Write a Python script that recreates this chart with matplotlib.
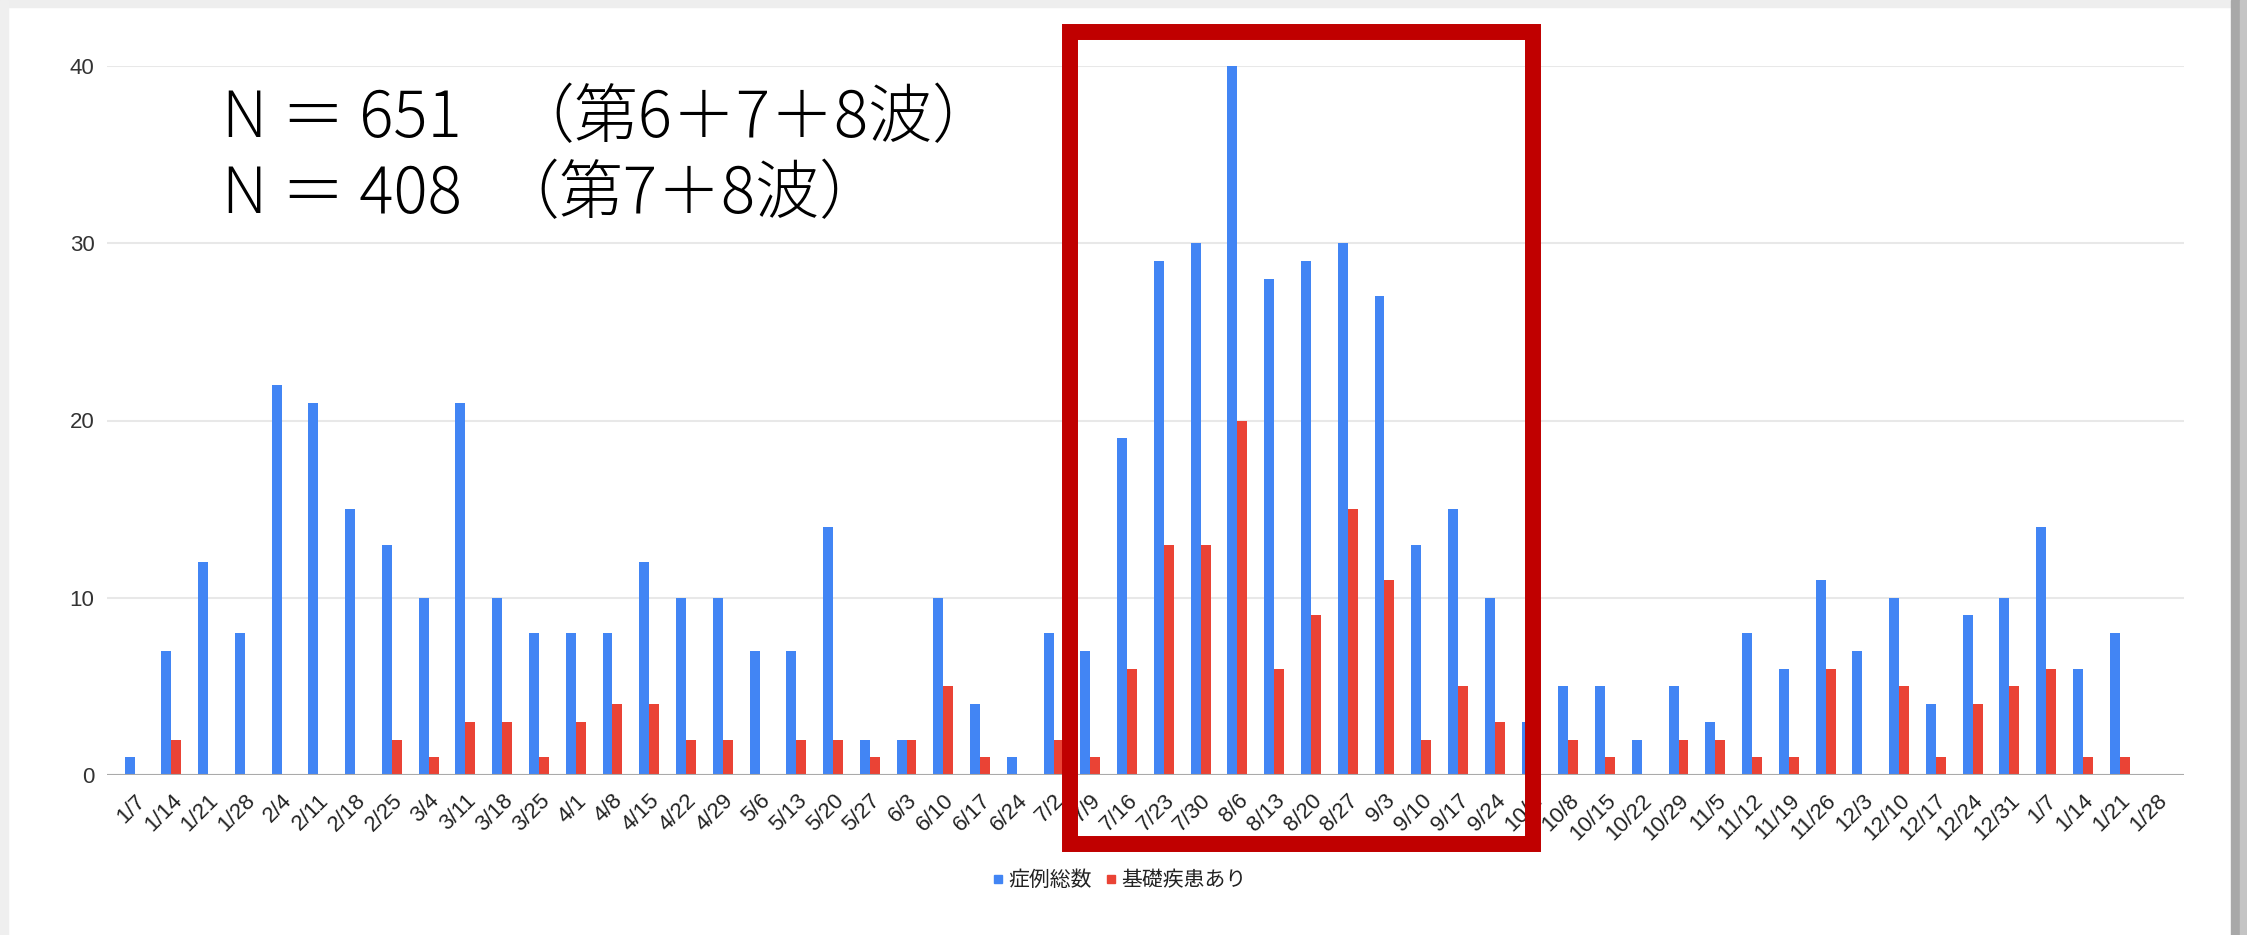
import numpy as np
import matplotlib.pyplot as plt
from matplotlib.patches import Rectangle
from matplotlib.lines import Line2D

# 週ごとの症例数（1/7 〜 翌年 1/28）
weeks = ["1/7", "1/14", "1/21", "1/28", "2/4", "2/11", "2/18", "2/25", "3/4", "3/11",
         "3/18", "3/25", "4/1", "4/8", "4/15", "4/22", "4/29", "5/6", "5/13", "5/20",
         "5/27", "6/3", "6/10", "6/17", "6/24", "7/2", "7/9", "7/16", "7/23", "7/30",
         "8/6", "8/13", "8/20", "8/27", "9/3", "9/10", "9/17", "9/24", "10/1", "10/8",
         "10/15", "10/22", "10/29", "11/5", "11/12", "11/19", "11/26", "12/3", "12/10", "12/17",
         "12/24", "12/31", "1/7", "1/14", "1/21", "1/28"]
total_cases = [1, 7, 12, 8, 22, 21, 15, 13, 10, 21,
               10, 8, 8, 8, 12, 10, 10, 7, 7, 14,
               2, 2, 10, 4, 1, 8, 7, 19, 29, 30,
               40, 28, 29, 30, 27, 13, 15, 10, 3, 5,
               5, 2, 5, 3, 8, 6, 11, 7, 10, 4,
               9, 10, 14, 6, 8, 0]
with_underlying = [0, 2, 0, 0, 0, 0, 0, 2, 1, 3,
                   3, 1, 3, 4, 4, 2, 2, 0, 2, 2,
                   1, 2, 5, 1, 0, 2, 1, 6, 13, 13,
                   20, 6, 9, 15, 11, 2, 5, 3, 1, 2,
                   1, 0, 2, 2, 1, 1, 6, 0, 5, 1,
                   4, 5, 6, 1, 1, 0]
series_names = ["症例総数", "基礎疾患あり"]

BLUE = "#4285F4"
RED = "#EA4335"
W, H = 2247, 935

fig = plt.figure(figsize=(W / 100, H / 100), dpi=100)
fig.patch.set_facecolor("white")

# 画面キャプチャの枠
fig.patches.append(Rectangle((0, 1 - 7 / H), 1, 7 / H, transform=fig.transFigure,
                             color="#eeeeee", zorder=0))
fig.patches.append(Rectangle((0, 0), 8 / W, 1, transform=fig.transFigure,
                             color="#efefef", zorder=0))
fig.patches.append(Rectangle((2231 / W, 0), 9 / W, 1, transform=fig.transFigure,
                             color="#a8a8a8", zorder=0))
fig.patches.append(Rectangle((2240 / W, 0), 7 / W, 1, transform=fig.transFigure,
                             color="#c4c4c4", zorder=0))

ax = fig.add_axes([107 / W, 1 - 775 / H, (2184 - 107) / W, (775 - 66) / H])

x = np.arange(len(weeks))
bw = 0.27
ax.bar(x - bw / 2, total_cases, bw, color=BLUE, zorder=3)
ax.bar(x + bw / 2, with_underlying, bw, color=RED, zorder=3)

ax.set_xlim(-0.75, len(weeks) - 0.25)
ax.set_ylim(0, 40)
ax.set_yticks([0, 10, 20, 30, 40])
ax.yaxis.grid(True, color="#e8e8e8", linewidth=1.5, zorder=0)
ax.axhline(0, color="#aaaaaa", linewidth=1.5, zorder=4)
for s in ax.spines.values():
    s.set_visible(False)

ax.set_xticks(x)
ax.set_xticklabels(weeks, rotation=45, ha="right", va="top", rotation_mode="anchor",
                   fontsize=16, color="#222222", family="Liberation Sans")
ax.tick_params(axis="x", length=0, pad=11)
ax.tick_params(axis="y", length=0, pad=9, labelsize=16, labelcolor="#333333")
for lab in ax.get_yticklabels():
    lab.set_family("Liberation Sans")

# 波ごとの症例数
jp = ["Noto Sans CJK JP", "DejaVu Sans"]
note = dict(fontsize=46, family=jp, fontweight="light", va="baseline")
fig.text(222 / W, 1 - 137 / H, "N ＝ 651", **note)
fig.text(510 / W, 1 - 137 / H, "（第6＋7＋8波）", **note)
fig.text(222 / W, 1 - 213 / H, "N ＝ 408", **note)
fig.text(495 / W, 1 - 213 / H, "（第7＋8波）", **note)

# 第7波の強調枠
fig.patches.append(Rectangle((1070 / W, 1 - 844 / H), 463 / W, 812 / H,
                             transform=fig.transFigure, fill=False,
                             edgecolor="#C00000", linewidth=11.5,
                             joinstyle="miter", zorder=10))

handles = [Line2D([], [], linestyle="none", marker="s", markersize=6,
                  color=c) for c in (BLUE, RED)]
fig.legend(handles, series_names, loc="center", bbox_to_anchor=(0.498, 1 - 880 / H),
           ncol=2, frameon=False, handlelength=0.6, handletextpad=0.2,
           columnspacing=0.6, prop={"family": jp, "size": 15}, labelcolor="#222222")

fig.savefig("out.png", dpi=100)
